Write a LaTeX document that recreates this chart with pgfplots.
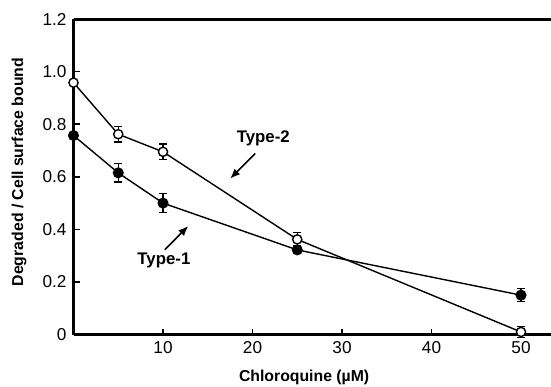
\documentclass[border=0pt]{standalone}
\usepackage{pgfplots}
\pgfplotsset{compat=1.18}
\usepackage{fontspec}
\setmainfont{Liberation Sans}
\usetikzlibrary{arrows.meta,calc}
\begin{document}
\begin{tikzpicture}
\begin{axis}[
  name=ax,
  scale only axis,
  width=238.75pt, height=157.8pt,
  xmin=0, xmax=53.35, ymin=0, ymax=1.2,
  axis x line=box, axis y line=left,
  axis line style={line width=1.5pt, -},
  xtick={10,20,30,40,50},
  ytick={0,0.2,0.4,0.6,0.8,1.0,1.2},
  yticklabels={0,0.2,0.4,0.6,0.8,1.0,1.2},
  xtick pos=bottom, ytick pos=left,
  tick align=inside,
  major tick length=3pt,
  tick style={line width=0.8pt, black},
  ticklabel style={font=\fontsize{8.6}{10}\selectfont},
  /pgf/number format/assume math mode=true,
  xlabel={\textbf{Chloroquine (\textmu M)}},
  xlabel style={font=\fontsize{7.9}{9}\selectfont, at={(axis description cs:0.483,0)}, anchor=north, yshift=-14pt},
  ylabel={\textbf{Degraded / Cell surface bound}},
  ylabel style={font=\fontsize{7.9}{9}\selectfont, at={(axis description cs:-0.114,0.515)}, anchor=center},
  clip=false,
  error bars/error bar style={line width=0.6pt},
  error bars/error mark options={rotate=90, mark size=2pt, line width=0.6pt},
]
\addplot[black, line width=0.7pt, mark=*, mark size=2.4pt, mark options={fill=black},
  error bars/.cd, y dir=both, y explicit]
  coordinates {
  (0,0.757) +- (0,0)
  (5,0.615) +- (0,0.035)
  (10,0.500) +- (0,0.035)
  (25,0.322) +- (0,0.015)
  (50,0.150) +- (0,0.025)
  };
\addplot[black, line width=0.7pt, mark=*, mark size=2.3pt, mark options={fill=white, line width=0.7pt},
  error bars/.cd, y dir=both, y explicit]
  coordinates {
  (0,0.958) +- (0,0)
  (5,0.762) +- (0,0.03)
  (10,0.695) +- (0,0.03)
  (25,0.362) +- (0,0.025)
  (50,0.010) +- (0,0.02)
  };
\node[font=\bfseries\fontsize{8.4}{10}\selectfont] at (axis cs:21.2,0.745) {Type-2};
\draw[line width=0.8pt, -{Latex[length=5pt,width=4pt]}] (axis cs:20.3,0.688) -- (axis cs:17.5,0.593);
\node[font=\bfseries\fontsize{8.4}{10}\selectfont] at (axis cs:10.1,0.281) {Type-1};
\draw[line width=0.8pt, -{Latex[length=5pt,width=4pt]}] (axis cs:10.2,0.323) -- (axis cs:12.83,0.413);
\end{axis}
\pgfresetboundingbox
\useasboundingbox ($(ax.south west)+(-36.75pt,-26pt)$) rectangle ($(ax.north east)+(0,9.5pt)$);
\end{tikzpicture}
\end{document}
